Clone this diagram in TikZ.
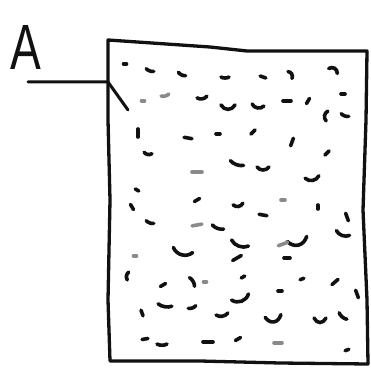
\documentclass[tikz,border=0pt]{standalone}
\usepackage{graphicx}
\usepackage{fontspec}
\setmainfont{Liberation Sans}
\usepackage{tikz}
\usetikzlibrary{calc}
\definecolor{inkblk}{HTML}{111111}
\definecolor{inkgray}{HTML}{8A8A8A}
\tikzset{
  outline/.style={draw=inkblk, line width=3.3pt, line join=round, line cap=round},
  leader/.style={draw=inkblk, line width=3pt, line cap=round, line join=round},
  stipple/.style={line width=3.6pt, line cap=round},
  lbl/.style={inner sep=0pt, font=\fontsize{64}{64}\selectfont, text=inkblk},
}

\begin{document}
\begin{tikzpicture}[x=1pt, y=-1pt]
  \useasboundingbox (0,0) rectangle (371,371);

  % label and leader
  \node[lbl] (labelA) at (26,47) {\scalebox{0.72}[1]{A}};
  \coordinate (lstart) at (28,82);
  \coordinate (ljoin)  at (108,82);
  \coordinate (ltip)   at (128,110);
  \draw[leader] (lstart) -- (ljoin) -- (ltip);

  % the hand drawn box
  \draw[outline] (108,40) -- (210,47) -- (247,51) -- (367,51) -- (366,120)
    -- (363,210) -- (367,300) -- (368,364) -- (280,363) -- (200,361)
    -- (110,361) -- (108,300) -- (110,200) -- (108,120) -- cycle;

  % stippled fill: x/y/angle/half length/sag/colour
  \foreach \x/\y/\a/\l/\b/\c in {
    125/64/0/1.5/0/inkblk, 150/70/-20/4/20/inkblk, 182/74/-25/4/20/inkblk,
    225/77/0/4/20/inkblk, 263/77/-20/3/0/inkblk, 290/75/-60/4/-40/inkblk,
    333/71/-30/5/-50/inkblk, 143/101/0/1.5/0/inkgray, 165/95/15/4/20/inkgray,
    202/97/10/5/30/inkblk, 228/105/0/7/50/inkblk, 258/105/-10/6/40/inkblk,
    287/101/0/4/0/inkblk, 308/101/60/3/0/inkblk, 343/94/0/2/0/inkblk,
    327/116/80/5/-40/inkblk, 345/115/-20/4/20/inkblk, 138/133/90/4/0/inkblk,
    188/138/-10/4/0/inkblk, 218/134/0/2/0/inkblk, 253/132/45/3/0/inkblk,
    292/142/70/4/0/inkblk, 148/153/-10/4/30/inkblk, 327/153/45/3/0/inkblk,
    197/172/0/5/0/inkgray, 237/163/-20/7/20/inkblk, 263/167/0/6/40/inkblk,
    312/177/10/7/40/inkblk, 137/190/-30/2/0/inkblk, 197/200/30/3/0/inkblk,
    238/204/10/5/40/inkblk, 283/200/0/2/0/inkgray, 318/207/90/2/0/inkblk,
    132/207/-60/3/0/inkblk, 263/215/-10/4/0/inkblk, 347/217/-70/4/0/inkblk,
    150/222/-20/4/20/inkblk, 197/225/10/5/0/inkgray, 218/227/-20/6/20/inkblk,
    297/239/15/10/50/inkblk, 343/233/-20/7/30/inkblk, 183/250/-15/10/40/inkblk,
    240/243/-20/9/30/inkblk, 283/244/20/5/0/inkgray, 135/256/0/1.5/0/inkgray,
    237/258/30/5/0/inkblk, 287/258/0/3/0/inkblk, 128/276/80/4/-30/inkblk,
    163/285/30/3/0/inkblk, 192/282/-60/5/-20/inkblk, 205/282/0/1.5/0/inkgray,
    243/277/30/2/0/inkblk, 302/279/20/2/0/inkblk, 335/282/40/4/0/inkblk,
    280/291/0/2/0/inkblk, 357/294/-70/4/0/inkblk, 240/297/20/9/40/inkblk,
    165/305/-10/7/20/inkblk, 192/307/20/4/20/inkblk, 142/313/-70/3/0/inkblk,
    222/314/10/6/30/inkblk, 273/316/10/8/60/inkblk, 320/318/0/6/60/inkblk,
    343/316/-40/5/20/inkblk, 145/339/10/3/0/inkblk, 162/344/0/5/20/inkblk,
    208/342/0/5/0/inkblk, 238/339/30/3/0/inkblk, 278/343/0/4/0/inkgray,
    347/350/20/2/0/inkblk}
    \draw[stipple, draw=\c, rotate around={\a:(\x,\y)}]
      (\x-\l,\y) .. controls (\x-0.5*\l,\y+\l*\b/60)
      and (\x+0.5*\l,\y+\l*\b/60) .. (\x+\l,\y);
\end{tikzpicture}
\end{document}
